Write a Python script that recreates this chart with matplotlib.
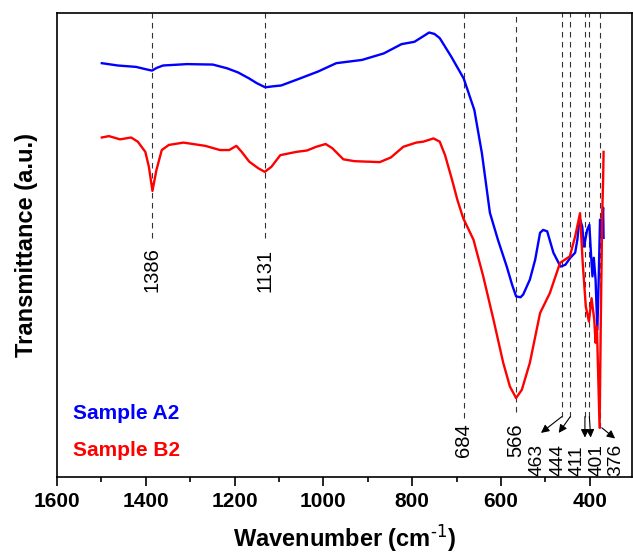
import matplotlib.pyplot as plt
from matplotlib.ticker import MultipleLocator

plt.rcParams["font.family"] = ["Liberation Sans", "DejaVu Sans"]
plt.rcParams["mathtext.default"] = "regular"

# Sample A2 (blue)
wn_a = [1499, 1463, 1422, 1400, 1386, 1375, 1361, 1307, 1249, 1217, 1192, 1167, 1150, 1131,
        1115, 1095, 1053, 1012, 971, 913, 864, 824, 795, 770, 762, 750, 738, 712, 684, 660, 643,
        625, 607, 587, 575, 566, 556, 550, 535, 523, 512, 505, 496, 482, 466, 455,
        444, 433, 428, 423, 417, 413, 406, 401, 397, 394, 391, 387, 383, 380, 377,
        374, 370, 369]
t_a = [89.2, 88.7, 88.4, 87.9, 87.6, 88.2, 88.7, 89.0, 88.9, 88.1, 87.2, 85.9, 84.9, 84.0,
       84.2, 84.4, 85.9, 87.4, 89.2, 89.9, 91.3, 93.3, 93.8, 95.3, 95.8, 95.5, 94.6, 90.6, 85.9, 79.1, 69.8,
       57.0, 51.2, 45.4, 41.5, 39.0, 38.8, 39.4, 42.6, 46.9, 52.7, 53.3, 53.0, 48.4, 45.4, 45.8,
       47.3, 48.4, 51.2, 55.9, 54.0, 49.7, 53.3, 54.4, 47.6, 43.3, 47.3, 42.6, 31.8, 42.6, 55.5,
       53.3, 58.1, 51.6]

# Sample B2 (red)
wn_b = [1499, 1483, 1458, 1433, 1418, 1401, 1393, 1385, 1376, 1364, 1348, 1315,
        1266, 1233, 1212, 1196, 1184, 1167, 1147, 1132, 1117, 1097, 1061, 1037,
        1016, 995, 980, 955, 930, 873, 848, 820, 791, 775, 752, 738, 726, 710, 698,
        685, 662, 640, 617, 595, 580, 566, 553, 535, 512, 490, 467, 445, 433, 422,
        416, 409, 402, 396, 390, 387, 384, 378, 375, 372, 370, 369]
t_b = [73.2, 73.5, 72.8, 73.2, 72.3, 70.1, 66.9, 61.7, 66.2, 70.5, 71.6, 72.1,
       71.4, 70.5, 70.5, 71.4, 70.1, 68.0, 66.6, 65.8, 66.9, 69.4, 70.1, 70.4,
       71.2, 71.8, 70.9, 68.5, 68.1, 67.9, 68.9, 71.2, 72.1, 72.3, 73.0, 72.3, 69.4, 64.0, 59.7,
       55.8, 51.2, 43.3, 34.0, 24.7, 19.6, 17.1, 18.9, 24.7, 35.4, 39.7, 46.2, 47.6, 51.9, 56.9,
       46.2, 36.8, 33.6, 38.6, 34.0, 29.0, 32.5, 10.7, 35.4, 56.9, 64.1, 70.1]

# marked bands
peaks_top = [1386, 1131]
peaks_mid = [684, 566]
peaks_low = [463, 444, 411, 401, 376]

fig, ax = plt.subplots(figsize=(6.33, 5.56), dpi=100)
fig.subplots_adjust(left=0.090, right=0.9984, bottom=0.1412, top=0.9766)

dash = dict(color="#333333", lw=0.8, linestyle=(0, (5, 4)), zorder=1)
ax.vlines(peaks_top, 51.6, 100, **dash)
ax.vlines(peaks_mid, [12.9, 14.0], 100, **dash)
ax.vlines(peaks_low, [13.1, 13.1, 13.1, 13.1, 10.7], 100, **dash)

ax.plot(wn_a, t_a, color="#0000ff", lw=1.7, zorder=3, solid_joinstyle="round")
ax.plot(wn_b, t_b, color="#ff0000", lw=1.7, zorder=3, solid_joinstyle="round")

lbl = dict(rotation=90, ha="center", va="bottom", fontsize=14.5, color="black")
for p in peaks_top:
    ax.text(p, 40.0, str(p), **lbl)
for p in peaks_mid:
    ax.text(p, 4.5, str(p), **lbl)

low_text_x = [518, 472, 428, 384, 341]
low_tail = [(463, 13.1), (444, 13.1), (411, 13.1), (401, 13.1), (373, 10.7)]
low_head = [(510, 9.6), (470, 9.6), (411, 8.6), (398, 8.6), (343, 8.4)]
for p, tx, tail, head in zip(peaks_low, low_text_x, low_tail, low_head):
    ax.text(tx, 0.4, str(p), rotation=90, ha="center", va="bottom",
            fontsize=13.8, color="black")
    ax.annotate("", xy=head, xytext=tail,
                arrowprops=dict(arrowstyle="-|>", color="black", lw=0.8,
                                mutation_scale=12, shrinkA=0, shrinkB=0))

ax.text(0.028, 12.5, "Sample A2", transform=ax.get_yaxis_transform(),
        color="#0000ff", fontsize=15, fontweight="bold")
ax.text(0.028, 4.7, "Sample B2", transform=ax.get_yaxis_transform(),
        color="#ff0000", fontsize=15, fontweight="bold")

ax.set_xlim(1600, 305)
ax.set_ylim(0, 100)
ax.set_yticks([])
ax.xaxis.set_major_locator(MultipleLocator(200))
ax.xaxis.set_minor_locator(MultipleLocator(100))
ax.tick_params(axis="x", which="major", direction="out", length=6.5, width=1.2,
               labelsize=15, pad=4)
ax.tick_params(axis="x", which="minor", direction="out", length=3.5, width=1.2)
plt.setp(ax.get_xticklabels(), fontweight="bold")
for s in ax.spines.values():
    s.set_linewidth(1.2)

ax.set_xlabel(r"Wavenumber (cm$^{\text{-1}}$)", fontsize=17, fontweight="bold", labelpad=8)
ax.set_ylabel("Transmittance (a.u.)", fontsize=17, fontweight="bold", labelpad=14)

plt.savefig("out.png", dpi=100)
